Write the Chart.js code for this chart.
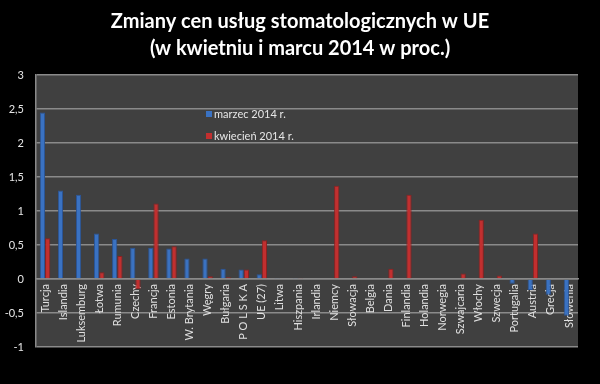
<!DOCTYPE html>
<html>
<head>
<meta charset="utf-8">
<script src="https://cdn.jsdelivr.net/npm/chart.js@4.4.0/dist/chart.umd.min.js"></script>
<style>
  html, body { margin: 0; padding: 0; background: #000; }
  #wrap { width: 600px; height: 384px; position: relative; }
</style>
</head>
<body>
<div id="wrap"><canvas id="dentalChart" width="600" height="384"></canvas></div>
<script>
const countries = ['Turcja', 'Islandia', 'Luksemburg', 'Łotwa', 'Rumunia', 'Czechy', 'Francja', 'Estonia',
  'W. Brytania', 'Węgry', 'Bułgaria', 'P O L S K A', 'UE (27)', 'Litwa', 'Hiszpania', 'Irlandia', 'Niemcy',
  'Słowacja', 'Belgia', 'Dania', 'Finlandia', 'Holandia', 'Norwegia', 'Szwajcaria', 'Włochy', 'Szwecja',
  'Portugalia', 'Austria', 'Grecja', 'Słowenia'];

const march = [2.45, 1.3, 1.24, 0.67, 0.59, 0.46, 0.46, 0.45, 0.3, 0.3, 0.15, 0.14, 0.07, 0.015, 0.015, 0,
  0, 0, 0, 0, 0, 0, 0, 0, 0, 0, -0.07, -0.16, -0.23, -0.54];
const april = [0.6, 0, 0, 0.1, 0.34, -0.15, 1.11, 0.48, 0, 0.04, 0.025, 0.14, 0.57, 0, 0.015, 0,
  1.37, 0.04, 0, 0.15, 1.24, 0, 0, 0.08, 0.87, 0.05, 0, 0.67, 0, 0];

const seriesNames = ['marzec 2014 r.', 'kwiecień 2014 r.'];
const titleLines = ['Zmiany cen usług stomatologicznych w UE', '(w kwietniu i marcu 2014 w proc.)'];

const FONT = 'Lato, "Noto Sans", sans-serif';

// tło wykresu, tytuł i legenda w środku obszaru
const decor = {
  id: 'decor',
  beforeDraw(chart) {
    const { ctx, chartArea: a } = chart;
    ctx.save();
    ctx.fillStyle = '#000';
    ctx.fillRect(0, 0, chart.width, chart.height);
    ctx.fillStyle = '#404040';
    ctx.fillRect(a.left, a.top, a.right - a.left, a.bottom - a.top);
    ctx.restore();
  },
  afterDraw(chart) {
    const { ctx } = chart;
    ctx.save();
    ctx.fillStyle = '#fff';
    ctx.textAlign = 'center';
    ctx.textBaseline = 'alphabetic';
    ctx.font = 'bold 20px ' + FONT;
    ctx.fillText(titleLines[0], 300, 28);
    ctx.fillText(titleLines[1], 300, 55);

    ctx.font = '11px ' + FONT;
    ctx.textAlign = 'left';
    ctx.textBaseline = 'middle';
    chart.data.datasets.forEach((ds, i) => {
      const y = 114 + i * 22;
      ctx.fillStyle = ds.backgroundColor;
      ctx.fillRect(206, y - 3, 6, 6);
      ctx.fillStyle = '#e6e6e6';
      ctx.fillText(ds.label, 214, y);
    });
    ctx.restore();
  }
};

new Chart(document.getElementById('dentalChart'), {
  type: 'bar',
  data: {
    labels: countries,
    datasets: [
      { label: seriesNames[0], data: march, backgroundColor: '#3a72c2', borderColor: '#2a5598', borderWidth: 1 },
      { label: seriesNames[1], data: april, backgroundColor: '#c22f2f', borderColor: '#8e2020', borderWidth: 1 }
    ]
  },
  options: {
    responsive: false,
    animation: false,
    layout: { padding: { top: 75, right: 22, bottom: 37, left: 0 } },
    datasets: { bar: { categoryPercentage: 0.58, barPercentage: 1 } },
    plugins: { legend: { display: false }, title: { display: false }, tooltip: { enabled: false } },
    scales: {
      x: {
        position: { y: 0 },
        grid: { display: false, drawTicks: false },
        border: { display: true, color: '#8a8a8a', width: 1.5 },
        ticks: {
          autoSkip: false, minRotation: 90, maxRotation: 90, padding: 5,
          color: '#e0e0e0', font: { family: FONT, size: 11 }
        }
      },
      y: {
        min: -1, max: 3,
        afterFit(scale) { scale.width = 36; },
        grid: { color: '#8a8a8a', lineWidth: 1.5, drawTicks: false },
        border: { display: true, color: '#8a8a8a', width: 1.5 },
        ticks: {
          stepSize: 0.5, padding: 12, color: '#e6e6e6', font: { family: FONT, size: 11 },
          callback: v => String(v).replace('.', ',')
        }
      }
    }
  },
  plugins: [decor]
});
</script>
</body>
</html>
